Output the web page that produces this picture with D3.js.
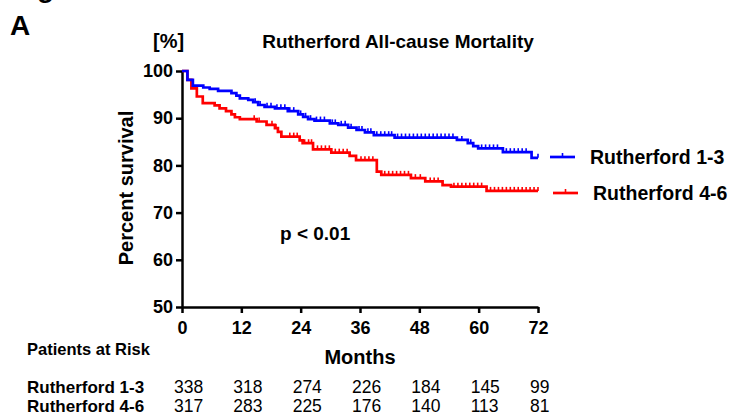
<!DOCTYPE html>
<html>
<head>
<meta charset="utf-8">
<script src="https://cdnjs.cloudflare.com/ajax/libs/d3/7.8.5/d3.min.js"></script>
<style>
body { margin: 0; background: #fff; }
svg { font-family: "Liberation Sans", Arial, sans-serif; }
</style>
</head>
<body>
<div id="chart"></div>
<script>
// step times (months) and survival (%) after each step
var blueTimes = [0, 1.1, 2.2, 4.3, 5.6, 7.3, 10, 11, 11.7, 13.4, 14.4, 15.4, 16.7, 18.8, 21.4, 23.5, 24.5, 25.5, 26.8, 29.9, 31.6, 33.6, 35.3, 37, 38.8, 43, 55.6, 57.8, 58.9, 59.9, 64.9, 70.7];
var blueSurv = [100, 98.1, 96.9, 96.5, 96.2, 95.8, 95.3, 94.8, 94.2, 93.9, 93.4, 92.8, 92.4, 92.1, 91.5, 90.8, 90.3, 89.8, 89.5, 88.9, 88.6, 88.0, 87.5, 87.0, 86.4, 85.9, 85.4, 84.7, 84.1, 83.6, 82.8, 81.6];
var blueCens = [14.8, 15.8, 17.2, 18.0, 19.2, 20.0, 20.8, 21.8, 22.6, 24.0, 25.0, 26.0, 27.2, 28.0, 28.8, 30.4, 31.0, 32.2, 33.0, 34.2, 35.8, 36.4, 37.6, 38.2, 39.4, 40.2, 41.0, 41.8, 42.4, 43.6, 44.4, 45.2, 46.0, 46.8, 47.6, 48.4, 49.2, 50.0, 50.8, 51.6, 52.4, 53.2, 54.0, 54.8, 56.6, 58.4, 60.6, 61.4, 62.2, 63.0, 63.8, 65.6, 66.4, 67.2, 68.0, 68.8, 69.6, 72];

var redTimes = [0, 1.1, 1.9, 3.0, 4.2, 6.6, 7.6, 8.9, 10, 10.7, 11.7, 15.1, 17.1, 18.8, 19.4, 20.1, 23.8, 24.4, 26.5, 30.2, 33.9, 35.2, 39.4, 40.3, 46.3, 49.2, 52.7, 54.4, 61.6];
var redSurv = [100, 98.1, 96.3, 94.6, 93.2, 92.7, 92.1, 91.5, 90.8, 90.2, 89.8, 89.3, 88.6, 87.9, 87.1, 86.1, 85.3, 84.7, 83.4, 82.7, 82.0, 81.1, 78.7, 78.0, 77.3, 76.6, 75.8, 75.5, 74.6];
var redCens = [14.6, 15.6, 18.2, 19.0, 21.8, 22.6, 23.3, 24.8, 25.6, 26.2, 27.4, 28.2, 29.0, 29.8, 31.0, 31.8, 32.6, 33.4, 36.2, 37.0, 37.8, 38.6, 41.0, 41.8, 42.6, 43.4, 44.2, 45.0, 45.8, 47.2, 48.2, 50.2, 51.0, 51.8, 55.0, 55.8, 56.6, 57.4, 58.2, 59.0, 59.8, 60.6, 62.4, 63.2, 64.0, 64.8, 65.6, 66.4, 67.2, 68.0, 68.8, 69.6, 70.4, 71.2, 72];

var groupNames = ["Rutherford 1-3", "Rutherford 4-6"];
var groupColors = ["#0000ff", "#ff0000"];
var xTicks = [0, 12, 24, 36, 48, 60, 72];
var yTicks = [50, 60, 70, 80, 90, 100];
var riskBlue = [338, 318, 274, 226, 184, 145, 99];
var riskRed = [317, 283, 225, 176, 140, 113, 81];

var svg = d3.select("#chart").append("svg")
    .attr("width", 730)
    .attr("height", 415);

var x = d3.scaleLinear().domain([0, 72]).range([182, 538]);
var y = d3.scaleLinear().domain([50, 100]).range([307, 71]);

// x axis
var xAxis = svg.append("g")
    .attr("transform", "translate(0,307)")
    .call(d3.axisBottom(x).tickValues(xTicks).tickSize(6).tickPadding(8).tickSizeOuter(0));
// y axis
var yAxis = svg.append("g")
    .attr("transform", "translate(182,0)")
    .call(d3.axisLeft(y).tickValues(yTicks).tickSize(6).tickPadding(3).tickSizeOuter(0));

[xAxis, yAxis].forEach(function(a){
    a.select(".domain").attr("stroke", "#000").attr("stroke-width", 2.5);
    a.selectAll(".tick line").attr("stroke", "#000").attr("stroke-width", 2.5);
    a.selectAll(".tick text")
        .attr("fill", "#000")
        .style("font-family", "Liberation Sans, Arial, sans-serif")
        .style("font-size", "18px")
        .style("font-weight", "bold");
});

function survAt(times, surv, t){
    var i = d3.bisectRight(times, t) - 1;
    return surv[Math.max(0, i)];
}

var series = [
    {times: blueTimes, surv: blueSurv, cens: blueCens, color: groupColors[0]},
    {times: redTimes, surv: redSurv, cens: redCens, color: groupColors[1]}
];

var line = d3.line()
    .x(function(d){ return x(d[0]); })
    .y(function(d){ return y(d[1]); })
    .curve(d3.curveStepAfter);

// draw red first so blue sits on top where they overlap
series.slice().reverse().forEach(function(s){
    var pts = s.times.map(function(t, i){ return [t, s.surv[i]]; });
    pts.push([72, s.surv[s.surv.length - 1]]);
    svg.append("path")
        .datum(pts)
        .attr("d", line)
        .attr("fill", "none")
        .attr("stroke", s.color)
        .attr("stroke-width", 2.7);
    svg.append("g")
        .selectAll("line")
        .data(s.cens)
        .enter()
        .append("line")
        .attr("x1", function(t){ return x(t); })
        .attr("x2", function(t){ return x(t); })
        .attr("y1", function(t){ return y(survAt(s.times, s.surv, t)); })
        .attr("y2", function(t){ return y(survAt(s.times, s.surv, t)) - 4; })
        .attr("stroke", s.color)
        .attr("stroke-width", 1.6);
});

// legend
var legendY = [157, 193];
var legendX = [550, 553];
groupNames.forEach(function(n, i){
    svg.append("line")
        .attr("x1", legendX[i]).attr("x2", legendX[i] + 25)
        .attr("y1", legendY[i]).attr("y2", legendY[i])
        .attr("stroke", groupColors[i]).attr("stroke-width", 2.7);
    svg.append("line")
        .attr("x1", legendX[i] + 12.5).attr("x2", legendX[i] + 12.5)
        .attr("y1", legendY[i]).attr("y2", legendY[i] - 4)
        .attr("stroke", groupColors[i]).attr("stroke-width", 1.6);
    svg.append("text")
        .attr("x", legendX[i] + 40)
        .attr("y", legendY[i] + 7)
        .style("font-size", "19.5px")
        .style("font-weight", "bold")
        .text(n);
});

// titles and labels
svg.append("text").attr("x", 37).attr("y", -3)
    .style("font-size", "28px").style("font-weight", "bold").text("g");
svg.append("text").attr("x", 10).attr("y", 35)
    .style("font-size", "28px").style("font-weight", "bold").text("A");
svg.append("text").attr("x", 153).attr("y", 48)
    .style("font-size", "20px").style("font-weight", "bold").text("[%]");
svg.append("text").attr("x", 398).attr("y", 48)
    .attr("text-anchor", "middle")
    .style("font-size", "19px").style("font-weight", "bold")
    .text("Rutherford All-cause Mortality");
svg.append("text")
    .attr("transform", "translate(133,188) rotate(-90)")
    .attr("text-anchor", "middle")
    .style("font-size", "20px").style("font-weight", "bold")
    .text("Percent survival");
svg.append("text").attr("x", 360).attr("y", 364)
    .attr("text-anchor", "middle")
    .style("font-size", "20px").style("font-weight", "bold")
    .text("Months");
svg.append("text").attr("x", 280).attr("y", 240)
    .style("font-size", "19px").style("font-weight", "bold")
    .text("p < 0.01");

// patients at risk table
svg.append("text").attr("x", 27).attr("y", 355)
    .style("font-size", "16.5px").style("font-weight", "bold")
    .text("Patients at Risk");

var riskRows = [riskBlue, riskRed];
var rowY = [393, 411.5];
riskRows.forEach(function(row, r){
    svg.append("text").attr("x", 27).attr("y", rowY[r])
        .style("font-size", "17px").style("font-weight", "bold")
        .text(groupNames[r]);
    svg.append("g")
        .selectAll("text")
        .data(row)
        .enter()
        .append("text")
        .attr("x", function(n, i){ return x(xTicks[i]) - 8; })
        .attr("y", rowY[r])
        .style("font-size", "17.5px")
        .text(function(n){ return n; });
});
</script>
</body>
</html>
